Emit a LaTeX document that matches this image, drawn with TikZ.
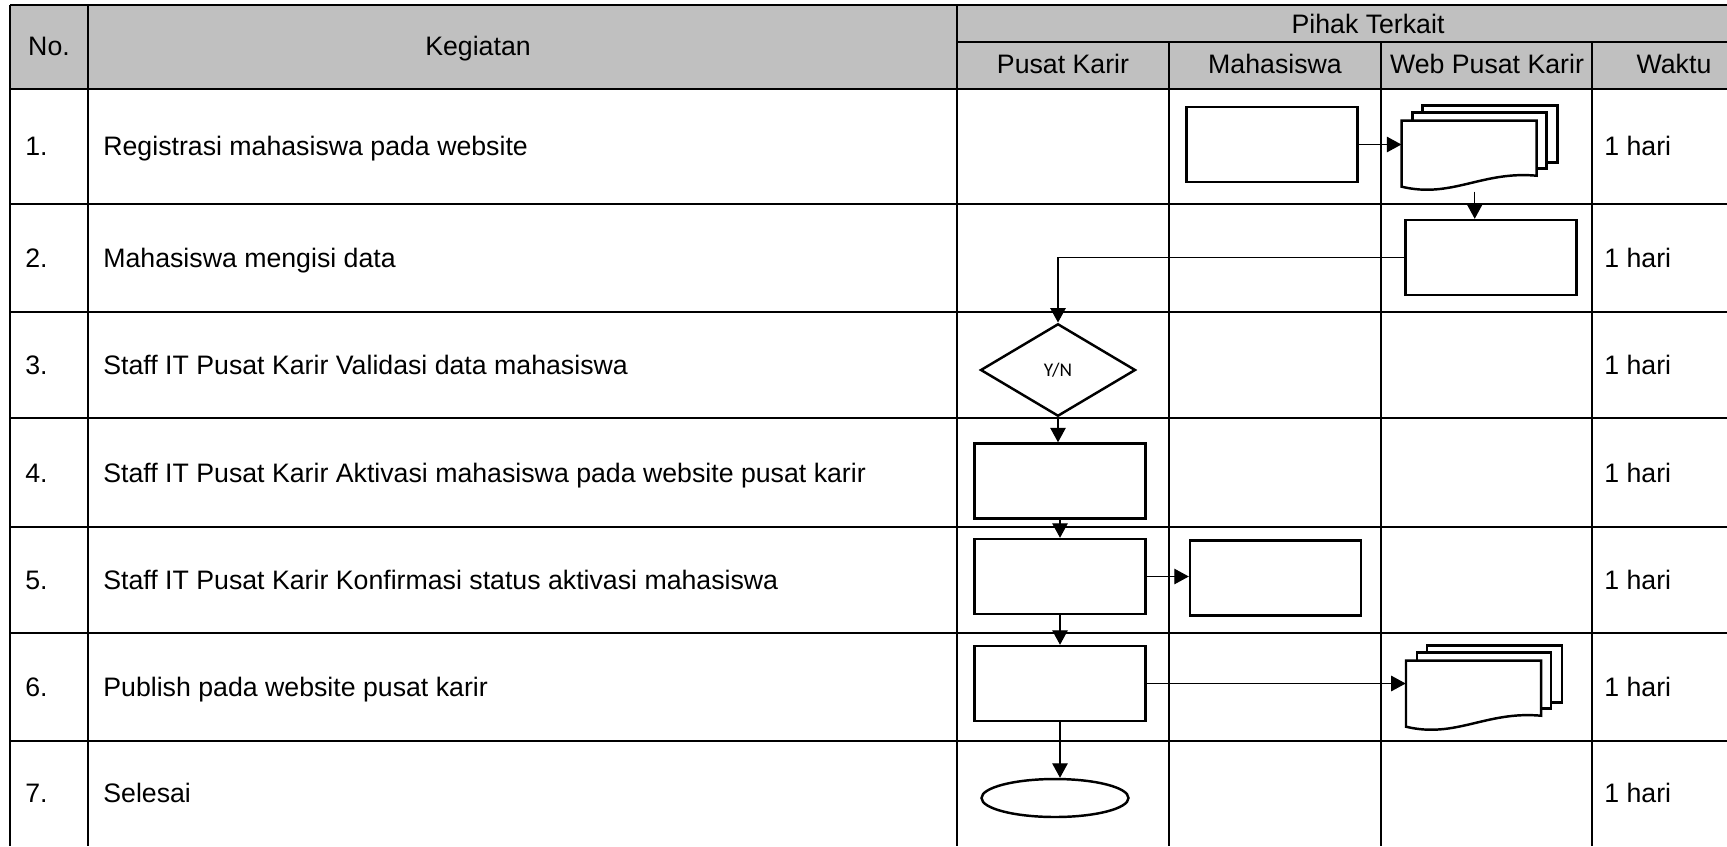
\documentclass[tikz,border=0pt]{standalone}
\usepackage{fontspec}
\setmainfont{Liberation Sans}
\newfontfamily\ynfont{Carlito}
\usetikzlibrary{arrows.meta,shapes.geometric}
\tikzset{
  tline/.style={line width=1.3pt},
  cell/.style={inner sep=0pt, text height=10.8pt, text depth=0pt, font=\fontsize{15.2pt}{18pt}\selectfont},
  flow/.style={-{Triangle[length=2.9mm, width=3.1mm]}, line width=0.7pt},
  outl/.style={draw, line width=1.4pt, fill=white},
  proc/.style={outl, rectangle, inner sep=0pt, minimum width=3.42cm, minimum height=1.5cm},
  decide/.style={outl, diamond, aspect=1.67, inner sep=0pt, minimum width=3.1cm, minimum height=1.85cm,
    text height=7pt, text depth=0pt, font=\fontsize{11pt}{12pt}\ynfont},
  term/.style={outl, ellipse, inner sep=0pt, minimum width=2.94cm, minimum height=0.76cm},
  docstack/.pic={
    \draw[outl] (21,-15) rectangle (156,42);
    \draw[outl] (11,-8) rectangle (145,48);
    \draw[outl] (0,0) -- (135,0) -- (135,55) .. controls (80,50) and (50,78) .. (0,66) -- cycle;
    \node[inner sep=0pt, minimum width=2.7cm, minimum height=1.32cm] (-f) at (67.5,33) {};
    \coordinate (-b) at (73,71);
  },
}
\definecolor{hdrgray}{RGB}{192,192,192}

\begin{document}
\begin{tikzpicture}[x=0.02cm, y=-0.02cm]
  \useasboundingbox (0,0) rectangle (1727,846);
  \fill[white] (0,0) rectangle (1727,846);
  % header band and table rules
  \fill[hdrgray] (10,5) rectangle (1727,89);
  \draw[tline] (10,5) -- (1727,5);
  \draw[tline] (957,42) -- (1727,42);
  \foreach \y in {89,204,312,418,527,633,741} \draw[tline] (10,\y) -- (1727,\y);
  \foreach \x in {10,88,957} \draw[tline] (\x,5) -- (\x,846);
  \foreach \x in {1169,1381,1592} \draw[tline] (\x,42) -- (\x,846);

  % header texts
  \node[cell] (hno) at (49,46) {No.};
  \node[cell] (hkeg) at (478,46) {Kegiatan};
  \node[cell] (hpihak) at (1368,24) {Pihak Terkait};
  \node[cell] (hpusat) at (1063,64) {Pusat Karir};
  \node[cell] (hmhs) at (1275,64) {Mahasiswa};
  \node[cell] (hweb) at (1487,64) {Web Pusat Karir};
  \node[cell] (hwaktu) at (1674,64) {Waktu};

  % rows
  \node[cell, anchor=west] (n1) at (25,146.5) {1.};
  \node[cell, anchor=west] (k1) at (103,146.5) {Registrasi mahasiswa pada website};
  \node[cell, anchor=west] (w1) at (1604,146.5) {1 hari};
  \node[cell, anchor=west] (n2) at (25,258) {2.};
  \node[cell, anchor=west] (k2) at (103,258) {Mahasiswa mengisi data};
  \node[cell, anchor=west] (w2) at (1604,258) {1 hari};
  \node[cell, anchor=west] (n3) at (25,365) {3.};
  \node[cell, anchor=west] (k3) at (103,365) {Staff IT Pusat Karir Validasi data mahasiswa};
  \node[cell, anchor=west] (w3) at (1604,365) {1 hari};
  \node[cell, anchor=west] (n4) at (25,472.5) {4.};
  \node[cell, anchor=west] (k4) at (103,472.5) {Staff IT Pusat Karir Aktivasi mahasiswa pada website pusat karir};
  \node[cell, anchor=west] (w4) at (1604,472.5) {1 hari};
  \node[cell, anchor=west] (n5) at (25,580) {5.};
  \node[cell, anchor=west] (k5) at (103,580) {Staff IT Pusat Karir Konfirmasi status aktivasi mahasiswa};
  \node[cell, anchor=west] (w5) at (1604,580) {1 hari};
  \node[cell, anchor=west] (n6) at (25,687) {6.};
  \node[cell, anchor=west] (k6) at (103,687) {Publish pada website pusat karir};
  \node[cell, anchor=west] (w6) at (1604,687) {1 hari};
  \node[cell, anchor=west] (n7) at (25,793) {7.};
  \node[cell, anchor=west] (k7) at (103,793) {Selesai};
  \node[cell, anchor=west] (w7) at (1604,793) {1 hari};

  % flow shapes
  \node[proc] (regmhs) at (1272,144.5) {};
  \pic (regweb) at (1401.7,120.7) {docstack};
  \node[proc] (isidata) at (1491,257.5) {};
  \node[decide] (valid) at (1058,370) {Y/N};
  \node[proc] (aktiv) at (1060,481) {};
  \node[proc] (konf) at (1060,576.5) {};
  \node[proc] (konfmhs) at (1275.5,578) {};
  \node[proc] (publish) at (1060,683.5) {};
  \pic (pubweb) at (1406,660.7) {docstack};
  \node[term] (selesai) at (1055,798) {};

  % connectors
  \draw[flow] (regmhs.east) -- (regmhs.east -| regweb-f.west);
  \draw[flow] (regweb-b) -- (regweb-b |- isidata.north);
  \draw[flow] (isidata.west) -| (valid.north);
  \draw[flow] (valid.south) -- (valid.south |- aktiv.north);
  \draw[flow] (aktiv.south) -- (konf.north);
  \draw[flow] (konf.east) -- (konf.east -| konfmhs.west);
  \draw[flow] (konf.south) -- (publish.north);
  \draw[flow] (publish.east) -- (publish.east -| pubweb-f.west);
  \draw[flow] (publish.south) -- (publish.south |- selesai.north);
\end{tikzpicture}
\end{document}
